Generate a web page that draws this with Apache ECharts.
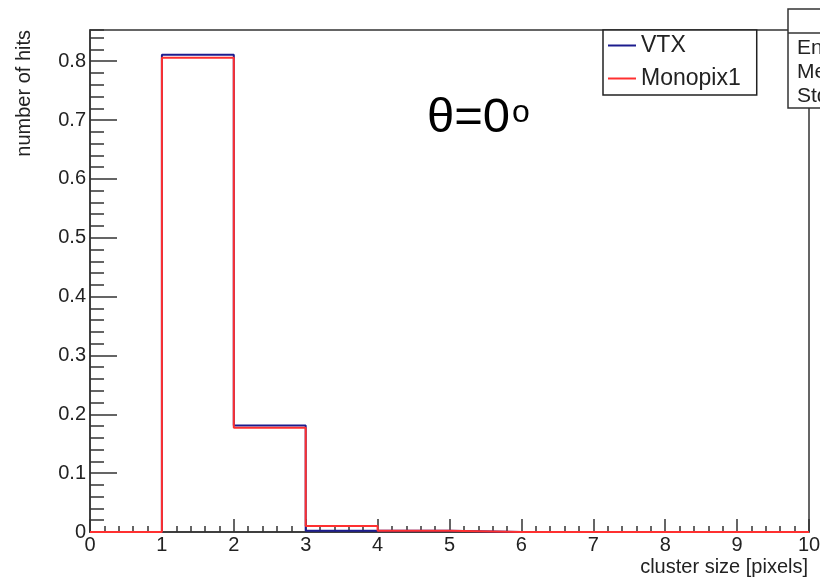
<!DOCTYPE html>
<html>
<head>
<meta charset="utf-8">
<title>cluster size</title>
<script src="https://cdn.jsdelivr.net/npm/echarts@6/dist/echarts.min.js"></script>
<style>
  html, body { margin: 0; padding: 0; background: #fff; }
  #chart { width: 820px; height: 580px; }
</style>
</head>
<body>
<div id="chart"></div>
<script>
// bin contents, bins [0,1), [1,2) ... [9,10)
const binEdges = [0, 1, 2, 3, 4, 5, 6, 7, 8, 9, 10];
const vtxHits = [0, 0.811, 0.181, 0.002, 0.002, 0, 0, 0, 0, 0];
const monopixHits = [0, 0.806, 0.177, 0.010, 0.002, 0, 0, 0, 0, 0];
const statsLines = ["Entries", "Mean", "Std Dev"];

const FONT = "'Liberation Sans', Arial, sans-serif";

// histogram -> step points (last edge repeats the last bin)
function toSteps(values) {
  const pts = values.map((v, i) => [binEdges[i], v]);
  pts.push([binEdges[binEdges.length - 1], values[values.length - 1]]);
  return pts;
}

const chart = echarts.init(document.getElementById("chart"));

chart.setOption({
  animation: false,
  backgroundColor: "#fff",
  grid: {
    left: 90, right: 11, top: 30, bottom: 48,
    outerBoundsMode: "none", containLabel: false,
    show: true, borderColor: "#333", borderWidth: 1.5
  },
  legend: {
    orient: "vertical",
    left: 603, top: 30,
    padding: [4, 16, 5, 5],
    icon: "rect",
    itemWidth: 28, itemHeight: 2, itemGap: 10,
    backgroundColor: "#fff",
    borderColor: "#222", borderWidth: 1.5, borderRadius: 0,
    textStyle: { fontFamily: FONT, fontSize: 23, color: "#222", lineHeight: 23 },
    data: ["VTX", "Monopix1"]
  },
  xAxis: [
    {
      type: "value", min: 0, max: 10, interval: 1,
      axisLine: { lineStyle: { color: "#333", width: 1.5 } },
      axisTick: { inside: true, length: 13, lineStyle: { color: "#333", width: 1.5 } },
      axisLabel: { fontFamily: FONT, fontSize: 20, color: "#222", margin: 3 },
      splitLine: { show: false }
    },
    {
      // minor ticks
      type: "value", position: "bottom", min: 0, max: 10, interval: 0.2,
      axisLine: { show: false },
      axisTick: { inside: true, length: 6, lineStyle: { color: "#333", width: 1.5 } },
      axisLabel: { show: false },
      splitLine: { show: false }
    }
  ],
  yAxis: [
    {
      type: "value", position: "left", min: 0, max: 0.853, interval: 0.1,
      axisLine: { show: true, lineStyle: { color: "#333", width: 1.5 } },
      axisTick: { show: true, inside: true, length: 27, lineStyle: { color: "#333", width: 1.5 } },
      axisLabel: { fontFamily: FONT, fontSize: 20, color: "#222", margin: 4, showMaxLabel: false },
      splitLine: { show: false }
    },
    {
      // minor ticks
      type: "value", position: "left", min: 0, max: 0.853, interval: 0.02,
      axisLine: { show: false },
      axisTick: { show: true, inside: true, length: 14, lineStyle: { color: "#333", width: 1.5 } },
      axisLabel: { show: false },
      splitLine: { show: false }
    }
  ],
  series: [
    {
      name: "VTX", type: "line", step: "end",
      data: toSteps(vtxHits),
      symbol: "none", clip: false,
      itemStyle: { color: "#1c1c8e" },
      lineStyle: { color: "#1c1c8e", width: 2 },
      z: 3
    },
    {
      name: "Monopix1", type: "line", step: "end",
      data: toSteps(monopixHits),
      symbol: "none", clip: false,
      itemStyle: { color: "#ff3030" },
      lineStyle: { color: "#ff3030", width: 2 },
      z: 4
    }
  ],
  graphic: [
    {
      type: "text", left: 427, top: 94, z: 10,
      style: {
        text: "{a|θ=0}{b|o}",
        rich: {
          a: { fontFamily: FONT, fontSize: 49, lineHeight: 49, fill: "#000" },
          b: { fontFamily: FONT, fontSize: 32, lineHeight: 49, fill: "#000",
               verticalAlign: "top", padding: [3, 0, 0, 2] }
        }
      }
    },
    {
      type: "text", x: 24, y: 30, rotation: Math.PI / 2, z: 10,
      style: { text: "number of hits", font: "20px " + FONT, fill: "#222",
               align: "right", verticalAlign: "middle" }
    },
    {
      type: "text", x: 808, y: 567, z: 10,
      style: { text: "cluster size [pixels]", font: "20px " + FONT, fill: "#222",
               align: "right", verticalAlign: "middle" }
    },
    {
      type: "group", z: 20,
      children: [
        { type: "rect", shape: { x: 788, y: 9, width: 60, height: 99 },
          style: { fill: "#fff", stroke: "#333", lineWidth: 1.5 } },
        { type: "line", shape: { x1: 788, y1: 33, x2: 830, y2: 33 },
          style: { stroke: "#333", lineWidth: 1.5 } }
      ].concat(statsLines.map((t, i) => ({
        type: "text", x: 797, y: 48 + i * 24,
        style: { text: t, font: "21px " + FONT, fill: "#222", verticalAlign: "middle" }
      })))
    }
  ]
});
</script>
</body>
</html>
